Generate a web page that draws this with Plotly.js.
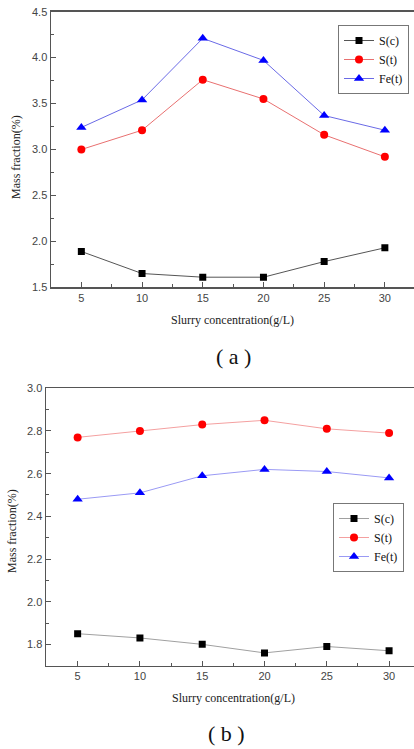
<!DOCTYPE html>
<html>
<head>
<meta charset="utf-8">
<script src="https://cdn.plot.ly/plotly-3.0.1.min.js"></script>
<style>html,body{margin:0;padding:0;background:#fff;}#chart{width:414px;height:749px;}</style>
</head>
<body>
<div id="chart"></div>
<script>
const concentration = [5, 10, 15, 20, 25, 30];
const xTickLabels = ['5', '10', '15', '20', '25', '30'];
// (a)
const a_Sc  = [1.89, 1.65, 1.61, 1.61, 1.78, 1.93];
const a_St  = [3.00, 3.21, 3.76, 3.55, 3.16, 2.92];
const a_Fet = [3.24, 3.54, 4.21, 3.97, 3.37, 3.21];
// (b)
const b_Sc  = [1.85, 1.83, 1.80, 1.76, 1.79, 1.77];
const b_St  = [2.77, 2.80, 2.83, 2.85, 2.81, 2.79];
const b_Fet = [2.48, 2.51, 2.59, 2.62, 2.61, 2.58];
const seriesNames = ['S(c)', 'S(t)', 'Fe(t)'];
const xTitle = 'Slurry concentration(g/L)';
const yTitle = 'Mass fraction(%)';
const captions = ['( a )', '( b )'];

const W = 414, H = 749;
function px(x){ return x / W; }
function py(y){ return 1 - y / H; }

function trace(y, name, idx, xa, ya, lg, light) {
  const mk = [
    {symbol:'square', size:7, color:'#000'},
    {symbol:'circle', size:8, color:'#ff0000'},
    {symbol:'triangle-up', size:9, color:'#0000ff'}
  ][idx];
  const lc = light ? ['#a0a0a0', '#f4a0a0', '#9a9af4'][idx] : ['#555555', '#e87070', '#6a6ae6'][idx];
  return {
    x: concentration, y: y, name: name, type: 'scatter', mode: 'lines+markers',
    xaxis: xa, yaxis: ya, legend: lg,
    line: {color: lc, width: 1},
    marker: {symbol: mk.symbol, size: mk.size, color: mk.color, line: {width: 0}}
  };
}

const data = [
  trace(a_Sc, seriesNames[0], 0, 'x', 'y', 'legend', false),
  trace(a_St, seriesNames[1], 1, 'x', 'y', 'legend', false),
  trace(a_Fet, seriesNames[2], 2, 'x', 'y', 'legend', false),
  trace(b_Sc, seriesNames[0], 0, 'x2', 'y2', 'legend2', true),
  trace(b_St, seriesNames[1], 1, 'x2', 'y2', 'legend2', true),
  trace(b_Fet, seriesNames[2], 2, 'x2', 'y2', 'legend2', true)
];

const tickFont = {family: 'Liberation Sans, Arial, sans-serif', size: 11, color: '#444'};
function xax(domain, range, anchor) {
  return {
    domain: domain, range: range, anchor: anchor,
    tickmode: 'array', tickvals: concentration, ticktext: xTickLabels,
    ticks: 'inside', ticklen: 5, tickwidth: 1, tickcolor: '#555',
    minor: {ticks: 'inside', ticklen: 3, tickcolor: '#555', dtick: 2.5, tick0: 2.5},
    showline: true, linecolor: '#555', linewidth: 1.5, mirror: true,
    showgrid: false, zeroline: false, tickfont: tickFont, fixedrange: true
  };
}
function yax(domain, range, dtick, minorDtick, anchor) {
  return {
    domain: domain, range: range, anchor: anchor,
    dtick: dtick, tick0: 0, tickformat: '.1f',
    ticks: 'inside', ticklen: 5, tickwidth: 1, tickcolor: '#555',
    minor: {ticks: 'inside', ticklen: 3, tickcolor: '#555', dtick: minorDtick},
    showline: true, linecolor: '#555', linewidth: 1.5,
    showgrid: false, zeroline: false, tickfont: tickFont, fixedrange: true
  };
}

const serif = 'Liberation Serif, Times New Roman, serif';
const layout = {
  width: W, height: H,
  margin: {l: 0, r: 0, t: 0, b: 0},
  paper_bgcolor: '#fff', plot_bgcolor: '#fff',
  showlegend: true,
  xaxis: xax([px(51), 1], [2.5, 32.4], 'y'),
  yaxis: yax([py(287.3), py(11.7)], [1.5, 4.5], 0.5, 0.25, 'x'),
  xaxis2: xax([px(46), 1], [2.46, 32.0], 'y2'),
  yaxis2: yax([py(665.7), py(388.3)], [1.7, 3.0], 0.2, 0.1, 'x2'),
  legend: {
    x: px(338), y: py(25), xanchor: 'left', yanchor: 'top',
    bordercolor: '#777', borderwidth: 1, bgcolor: '#fff',
    font: {family: serif, size: 12, color: '#111'},
    tracegroupgap: 0, itemwidth: 30
  },
  legend2: {
    x: px(333), y: py(503), xanchor: 'left', yanchor: 'top',
    bordercolor: '#777', borderwidth: 1, bgcolor: '#fff',
    font: {family: serif, size: 12, color: '#111'},
    tracegroupgap: 0, itemwidth: 30
  },
  annotations: [
    {text: xTitle, xref: 'paper', yref: 'paper', x: px(233), y: py(320), showarrow: false,
     font: {family: serif, size: 12, color: '#222'}, xanchor: 'center', yanchor: 'middle'},
    {text: xTitle, xref: 'paper', yref: 'paper', x: px(234), y: py(698), showarrow: false,
     font: {family: serif, size: 12, color: '#222'}, xanchor: 'center', yanchor: 'middle'},
    {text: yTitle, xref: 'paper', yref: 'paper', x: px(16), y: py(157), showarrow: false, textangle: -90,
     font: {family: serif, size: 12, color: '#222'}, xanchor: 'center', yanchor: 'middle'},
    {text: yTitle, xref: 'paper', yref: 'paper', x: px(12), y: py(531), showarrow: false, textangle: -90,
     font: {family: serif, size: 12, color: '#222'}, xanchor: 'center', yanchor: 'middle'},
    {text: captions[0], xref: 'paper', yref: 'paper', x: px(234), y: py(357), showarrow: false,
     font: {family: serif, size: 22, color: '#111'}, xanchor: 'center', yanchor: 'middle'},
    {text: captions[1], xref: 'paper', yref: 'paper', x: px(226), y: py(733), showarrow: false,
     font: {family: serif, size: 22, color: '#111'}, xanchor: 'center', yanchor: 'middle'}
  ]
};

Plotly.newPlot('chart', data, layout, {staticPlot: true, displayModeBar: false});
</script>
</body>
</html>
